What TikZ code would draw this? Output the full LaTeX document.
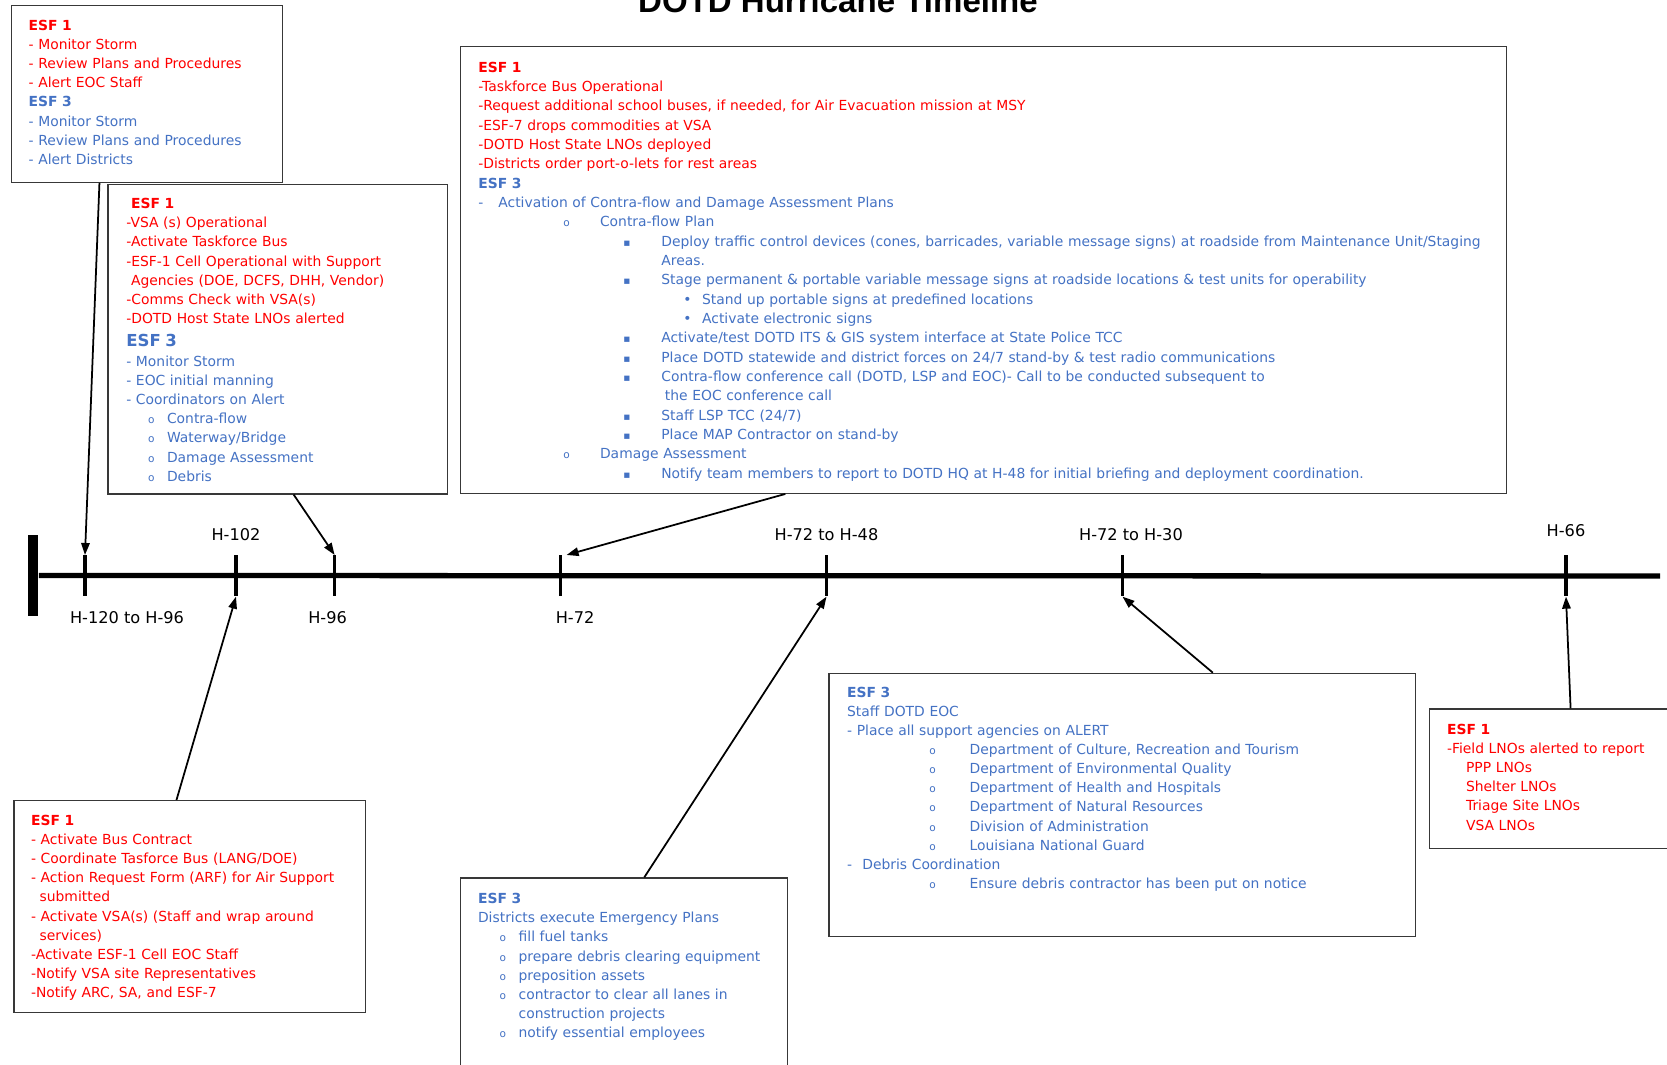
\documentclass[tikz,border=0pt]{standalone}
\usepackage{fontspec}
\setmainfont{DejaVu Sans}
\newfontfamily\headfont{Liberation Sans}
\usetikzlibrary{arrows.meta,positioning,calc}
\definecolor{esfRed}{HTML}{FF0000}
\definecolor{esfBlue}{HTML}{4472C4}
\definecolor{boxInk}{HTML}{383838}
\newlength\pxu \setlength\pxu{0.02cm}
\newcommand\itm[3]{\hspace*{#1\pxu}\makebox[#2\pxu][l]{#3}}
\newcommand\smallo{{\fontsize{6}{7}\selectfont o}}
\newcommand\sqb{{\fontsize{6}{7}\selectfont ▪}}
\tikzset{
  esfbox/.style={draw=boxInk, line width=0.7pt, anchor=north west, inner sep=0pt},
  txt/.style={anchor=north west, inner sep=0pt, align=left, font=\fontsize{7.9}{10.9}\selectfont, execute at begin node=\strut},
  tickmark/.style={fill=black, inner sep=0pt, minimum width=3.3\pxu, minimum height=41\pxu},
  hlbl/.style={inner sep=0pt, font=\fontsize{9.2}{11}\selectfont},
  timeline/.style={line width=3pt},
  arr/.style={-{Triangle[length=0.24cm,width=0.17cm]}, line width=1pt},
}
\begin{document}
\begin{tikzpicture}[x=0.02cm, y=-0.02cm]
\useasboundingbox (0,0) rectangle (1667,1065);
\fill[white] (0,0) rectangle (1667,1065);
\node[anchor=base, inner sep=0pt, font=\headfont\bfseries\fontsize{18.8}{22}\selectfont] (title) at (838,12.8) {DOTD Hurricane Timeline};

% boxes
\node[esfbox, minimum width=271\pxu, minimum height=177\pxu] (b1) at (10.7,4.7) {};
\node[esfbox, minimum width=339.4\pxu, minimum height=309.3\pxu] (b2) at (107.3,184) {};
\node[esfbox, minimum width=1046.1\pxu, minimum height=446.7\pxu] (b3) at (459.6,46) {};
\node[esfbox, minimum width=351.2\pxu, minimum height=211.7\pxu] (b4) at (13.3,800) {};
\node[esfbox, minimum width=326.7\pxu, minimum height=200\pxu] (b5) at (460,877.3) {};
\node[esfbox, minimum width=586.6\pxu, minimum height=263.3\pxu] (b6) at (828.4,672.7) {};
\node[esfbox, minimum width=260\pxu, minimum height=139.4\pxu] (b7) at (1429,708.3) {};

\node[txt, text width=250\pxu] (b1t) at (28.3,16.6) {\color{esfRed}\textbf{ESF 1}\\
- Monitor Storm\\
- Review Plans and Procedures\\
- Alert EOC Staff\\
\color{esfBlue}\textbf{ESF 3}\\
- Monitor Storm\\
- Review Plans and Procedures\\
- Alert Districts};

\node[txt, text width=310\pxu] (b2t) at (126,194.9) {\color{esfRed}\hspace*{4.7\pxu}\textbf{ESF 1}\\
-VSA (s) Operational\\
-Activate Taskforce Bus\\
-ESF-1 Cell Operational with Support\\
\hspace*{4.7\pxu}Agencies (DOE, DCFS, DHH, Vendor)\\
-Comms Check with VSA(s)\\
-DOTD Host State LNOs alerted\\[2pt]
\color{esfBlue}{\fontsize{9.4}{11}\selectfont\textbf{ESF 3}}\\[0.5pt]
- Monitor Storm\\
- EOC initial manning\\
- Coordinators on Alert\\
\itm{21.7}{19}{\smallo}Contra-flow\\
\itm{21.7}{19}{\smallo}Waterway/Bridge\\
\itm{21.7}{19}{\smallo}Damage Assessment\\
\itm{21.7}{19}{\smallo}Debris};

\node[txt, text width=1020\pxu, font=\fontsize{7.9}{11}\selectfont] (b3t) at (478,58.3) {\color{esfRed}\textbf{ESF 1}\\
-Taskforce Bus Operational\\
-Request additional school buses, if needed, for Air Evacuation mission at MSY\\
-ESF-7 drops commodities at VSA\\
-DOTD Host State LNOs deployed\\
-Districts order port-o-lets for rest areas\\
\color{esfBlue}\textbf{ESF 3}\\
\itm{0}{20}{-}Activation of Contra-flow and Damage Assessment Plans\\
\itm{85}{36.7}{\smallo}Contra-flow Plan\\
\itm{145}{38}{\sqb}Deploy traffic control devices (cones, barricades, variable message signs) at roadside from Maintenance Unit/Staging\\
\hspace*{183\pxu}Areas.\\
\itm{145}{38}{\sqb}Stage permanent \& portable variable message signs at roadside locations \& test units for operability\\
\itm{205}{18.8}{•}Stand up portable signs at predefined locations\\
\itm{205}{18.8}{•}Activate electronic signs\\
\itm{145}{38}{\sqb}Activate/test DOTD ITS \& GIS system interface at State Police TCC\\
\itm{145}{38}{\sqb}Place DOTD statewide and district forces on 24/7 stand-by \& test radio communications\\
\itm{145}{38}{\sqb}Contra-flow conference call (DOTD, LSP and EOC)- Call to be conducted subsequent to\\
\hspace*{186.6\pxu}the EOC conference call\\
\itm{145}{38}{\sqb}Staff LSP TCC (24/7)\\
\itm{145}{38}{\sqb}Place MAP Contractor on stand-by\\
\itm{85}{36.7}{\smallo}Damage Assessment\\
\itm{145}{38}{\sqb}Notify team members to report to DOTD HQ at H-48 for initial briefing and deployment coordination.};

\node[txt, text width=330\pxu] (b4t) at (30.7,811.6) {\color{esfRed}\textbf{ESF 1}\\
- Activate Bus Contract\\
- Coordinate Tasforce Bus (LANG/DOE)\\
- Action Request Form (ARF) for Air Support\\
\hspace*{8.6\pxu}submitted\\
- Activate VSA(s) (Staff and wrap around\\
\hspace*{8.6\pxu}services)\\
-Activate ESF-1 Cell EOC Staff\\
-Notify VSA site Representatives\\
-Notify ARC, SA, and ESF-7};

\node[txt, text width=300\pxu] (b5t) at (477.7,889.9) {\color{esfBlue}\textbf{ESF 3}\\
Districts execute Emergency Plans\\
\itm{21.6}{19}{\smallo}fill fuel tanks\\
\itm{21.6}{19}{\smallo}prepare debris clearing equipment\\
\itm{21.6}{19}{\smallo}preposition assets\\
\itm{21.6}{19}{\smallo}contractor to clear all lanes in\\
\hspace*{40.6\pxu}construction projects\\
\itm{21.6}{19}{\smallo}notify essential employees};

\node[txt, text width=560\pxu] (b6t) at (846.8,683.3) {\color{esfBlue}\textbf{ESF 3}\\
Staff DOTD EOC\\
- Place all support agencies on ALERT\\
\itm{82.3}{40.2}{\smallo}Department of Culture, Recreation and Tourism\\
\itm{82.3}{40.2}{\smallo}Department of Environmental Quality\\
\itm{82.3}{40.2}{\smallo}Department of Health and Hospitals\\
\itm{82.3}{40.2}{\smallo}Department of Natural Resources\\
\itm{82.3}{40.2}{\smallo}Division of Administration\\
\itm{82.3}{40.2}{\smallo}Louisiana National Guard\\
\itm{0}{15.2}{-}Debris Coordination\\
\itm{82.3}{40.2}{\smallo}Ensure debris contractor has been put on notice};

\node[txt, text width=220\pxu] (b7t) at (1446.7,720.6) {\color{esfRed}\textbf{ESF 1}\\
-Field LNOs alerted to report\\
\hspace*{19\pxu}PPP LNOs\\
\hspace*{19\pxu}Shelter LNOs\\
\hspace*{19\pxu}Triage Site LNOs\\
\hspace*{19\pxu}VSA LNOs};

% timeline
\node[tickmark, minimum width=10\pxu, minimum height=81\pxu] (t0) at (33.4,575.5) {};
\coordinate (tend) at (1660,576);
\draw[timeline] (t0) -- (tend);
\foreach \n/\x in {1/85,2/236,3/334.6,4/560.6,5/826.5,6/1122.5,7/1566}
  \node[tickmark] (t\n) at (\x,575.8) {};

\node[hlbl, below=0.288cm of t1, xshift=42\pxu] (l1) {H-120 to H-96};
\node[hlbl, above=0.286cm of t2] (l2) {H-102};
\node[hlbl, below=0.288cm of t3, xshift=-7\pxu] (l3) {H-96};
\node[hlbl, below=0.288cm of t4, xshift=14.5\pxu] (l4) {H-72};
\node[hlbl, above=0.286cm of t5] (l5) {H-72 to H-48};
\node[hlbl, above=0.286cm of t6, xshift=8.5\pxu] (l6) {H-72 to H-30};
\node[hlbl, above=0.354cm of t7] (l7) {H-66};

% connectors
\foreach \b/\f/\t in {b1/0.326/t1, b2/0.547/t3}
  \draw[arr] ($(\b.south west)!\f!(\b.south east)$) -- (\t.north);
\draw[arr] ($(b3.south west)!0.311!(b3.south east)$) -- ($(t4.north)+(6,0)$);
\foreach \b/\f/\t in {b4/0.463/t2, b5/0.562/t5, b6/0.654/t6, b7/0.542/t7}
  \draw[arr] ($(\b.north west)!\f!(\b.north east)$) -- (\t.south);
\end{tikzpicture}
\end{document}
